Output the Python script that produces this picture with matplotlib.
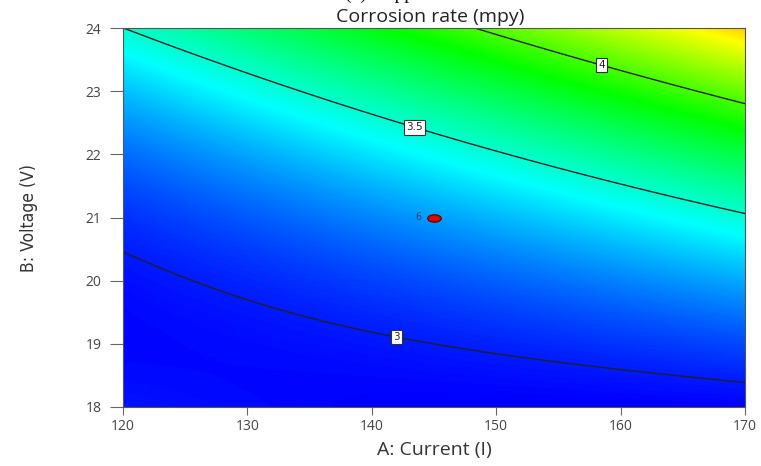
import numpy as np
import matplotlib
matplotlib.use("Agg")
import matplotlib.pyplot as plt
from matplotlib.colors import LinearSegmentedColormap
from matplotlib.path import Path

# ---- data ----
current_range = [120, 170]          # A: Current (I)
voltage_range = [18, 24]            # B: Voltage (V)
x_ticks = [120, 130, 140, 150, 160, 170]
y_ticks = [18, 19, 20, 21, 22, 23, 24]
# quadratic response-surface model in coded units (a, b in [-1, 1])
coef_names = ["b0", "A", "B", "AB", "A2", "B2"]
coef_values = [3.239, 0.2225, 0.495, 0.24, 0.023, 0.205]
contour_levels = [3, 3.5, 4]
contour_label_text = ["3", "3.5", "4"]
contour_label_pos = [(142.0, 19.1), (143.5, 22.45), (158.5, 23.45)]
design_point_A = [145]
design_point_B = [21]
design_point_label = ["6"]
color_min, color_max = 2.95, 4.8

title = "Corrosion rate (mpy)"
xlabel = "A: Current (I)"
ylabel = "B: Voltage (V)"

# ---- surface ----
A = np.linspace(current_range[0], current_range[1], 400)
B = np.linspace(voltage_range[0], voltage_range[1], 400)
AA, BB = np.meshgrid(A, B)
ca = (AA - np.mean(current_range)) / ((current_range[1] - current_range[0]) / 2)
cb = (BB - np.mean(voltage_range)) / ((voltage_range[1] - voltage_range[0]) / 2)
c = dict(zip(coef_names, coef_values))
R = (c["b0"] + c["A"] * ca + c["B"] * cb + c["AB"] * ca * cb
     + c["A2"] * ca ** 2 + c["B2"] * cb ** 2)

cmap = LinearSegmentedColormap.from_list(
    "de", [(0, 0, 1), (0, 1, 1), (0, 1, 0), (1, 1, 0), (1, 0, 0)])

fig = plt.figure(figsize=(7.61, 4.66), dpi=100)
W, H = 761, 466
ax = fig.add_axes([123 / W, 1 - 407 / H, (745 - 123) / W, (407 - 28) / H])

ax.imshow(R, extent=[A[0], A[-1], B[0], B[-1]], origin="lower", cmap=cmap,
          vmin=color_min, vmax=color_max, aspect="auto", interpolation="bilinear")
cs = ax.contour(AA, BB, R, levels=contour_levels, colors="#202020", linewidths=1.0)
fmt = dict(zip(contour_levels, contour_label_text))
labels = ax.clabel(cs, levels=contour_levels, inline=False, fmt=fmt, fontsize=7.5,
                   manual=contour_label_pos, colors="#202020")
for t in labels:
    t.set_rotation(0)
    t.set_bbox(dict(boxstyle="square,pad=0.2", fc="white", ec="#303030", lw=0.8))

circ = Path.unit_circle()
ell = Path(circ.vertices * np.array([1.0, 0.55]), circ.codes)
ax.scatter(design_point_A, design_point_B, marker=ell, s=95, c="#e00000",
           edgecolors="#500000", linewidths=0.8, zorder=5)
for xa, yb, lab in zip(design_point_A, design_point_B, design_point_label):
    ax.annotate(lab, (xa, yb), xytext=(-11, 0), textcoords="offset points",
                ha="center", va="center", fontsize=7, color="#334466")

ax.set_xlim(current_range)
ax.set_ylim(voltage_range)
ax.set_xticks(x_ticks)
ax.set_yticks(y_ticks)
ax.tick_params(direction="out", width=0.8, color="#666666",
               labelcolor="#444444", labelsize=10)
ax.tick_params(axis="x", length=6, pad=3)
ax.tick_params(axis="y", length=9.5, pad=6)
for lab in ax.get_xticklabels() + ax.get_yticklabels():
    lab.set_family("Open Sans")
for s in ax.spines.values():
    s.set_color("#555555")
    s.set_linewidth(0.8)

ax.set_xlabel(xlabel, family="Open Sans", fontsize=14, color="#333333", labelpad=5)
ax.set_ylabel(ylabel, family="DejaVu Sans", stretch="condensed", fontsize=12.5,
              color="#333333", labelpad=34)
fig.text(430 / W, 1 - 17 / H, title, family="Open Sans", fontsize=14,
         color="#222222", ha="center", va="center")
# clipped caption above the figure (only descenders visible)
fig.text(345 / W, 1 + 1.5 / H, "(c) Copper", family="Liberation Serif",
         fontsize=14, color="#111111", ha="left", va="baseline")

fig.savefig("out.png", dpi=100)
